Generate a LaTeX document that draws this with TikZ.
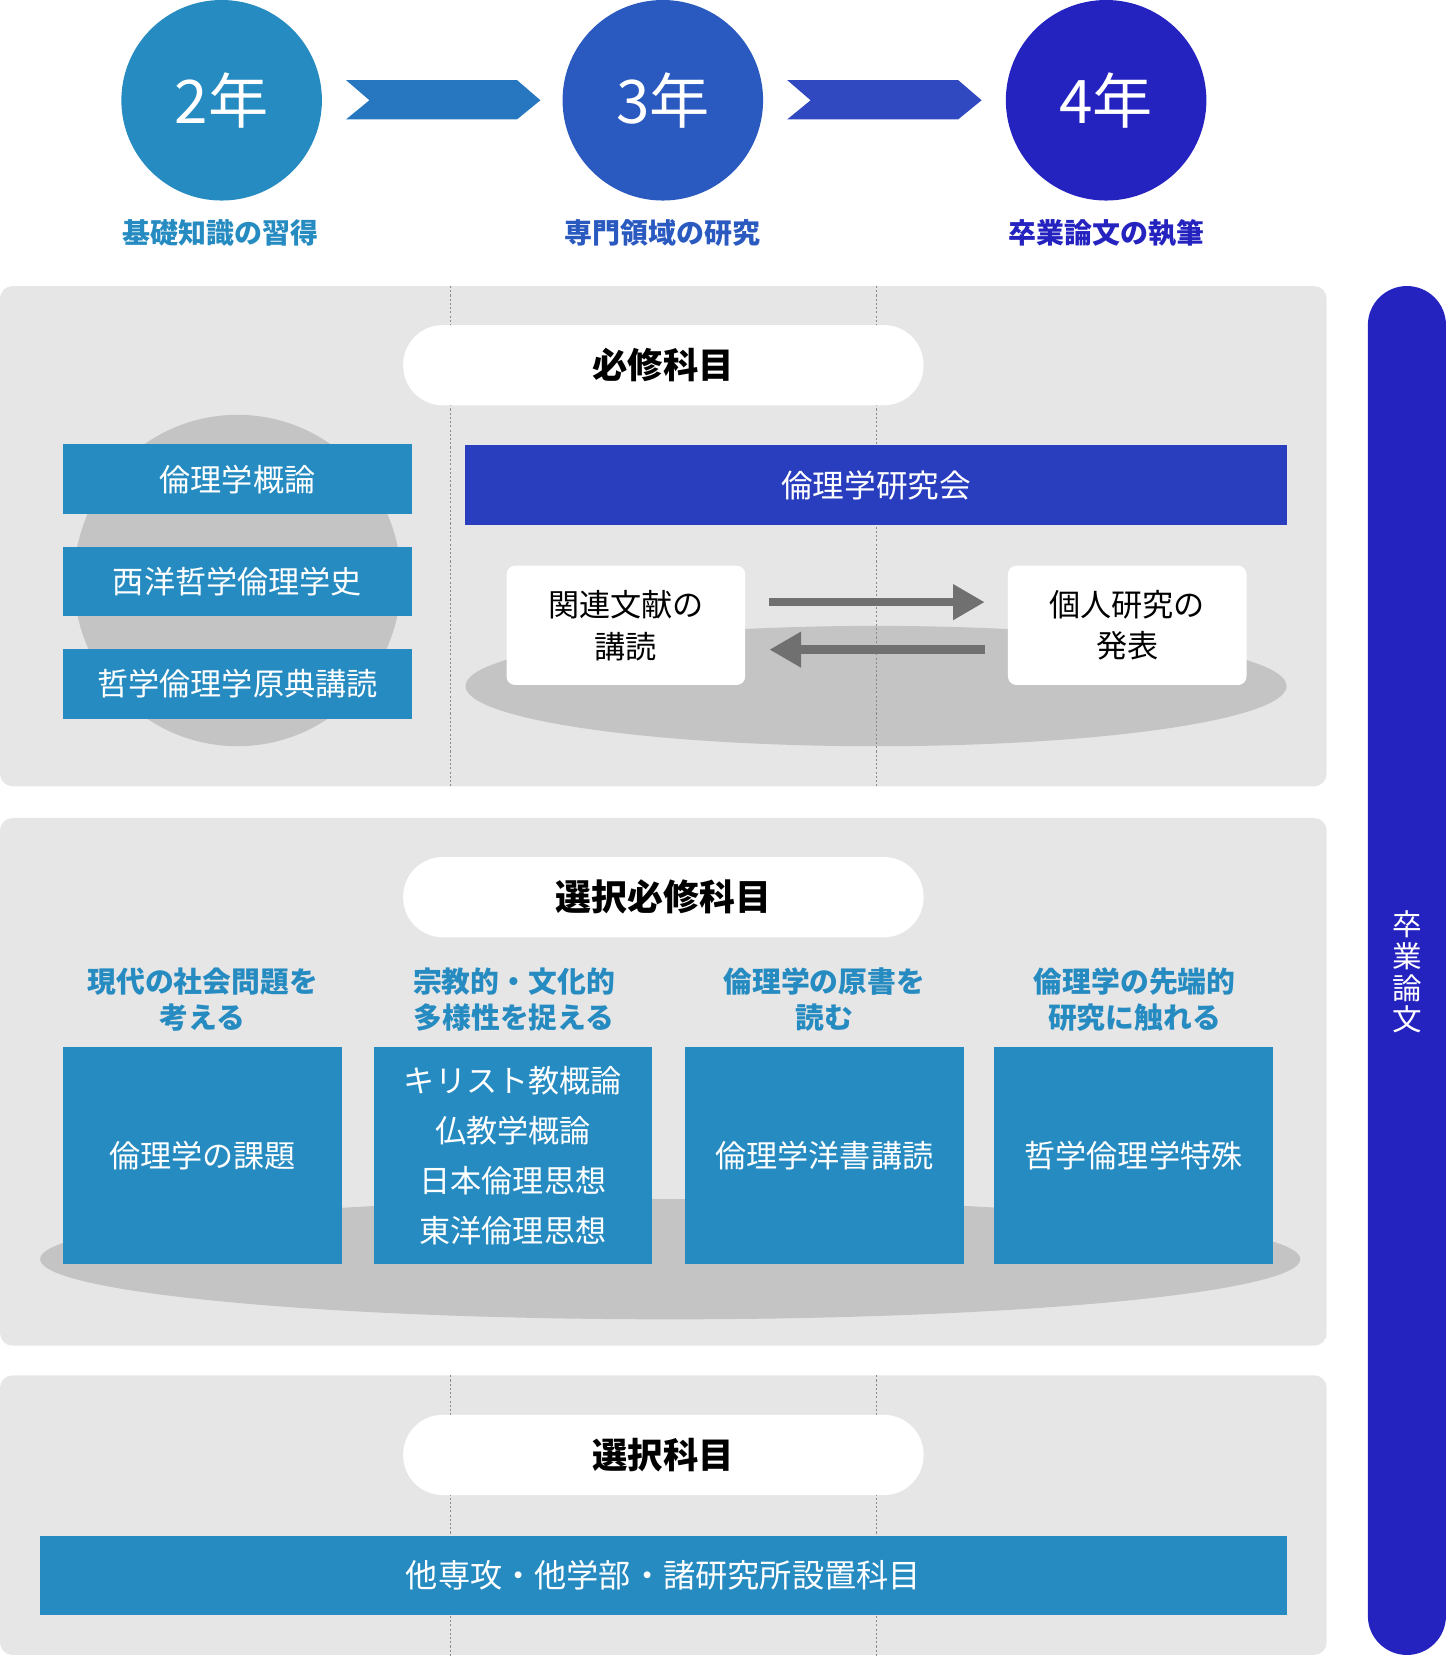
\documentclass[tikz,border=0pt]{standalone}
\usepackage{fontspec}
\setmainfont{Noto Sans CJK JP}
\usetikzlibrary{arrows.meta}
\definecolor{cteal}{HTML}{268BC1}
\definecolor{cmid}{HTML}{2A5AC0}
\definecolor{cdeep}{HTML}{2523C0}
\definecolor{cbluebox}{HTML}{293EBF}
\definecolor{cchevA}{HTML}{2777C0}
\definecolor{cchevB}{HTML}{3048C0}
\definecolor{cpanel}{HTML}{E6E6E6}
\definecolor{cell}{HTML}{C4C4C4}
\definecolor{cdash}{HTML}{8A8A8A}
\definecolor{carrow}{HTML}{707070}
\begin{document}
\begin{tikzpicture}[x=1pt,y=-1pt,
  every node/.style={inner sep=0pt,outer sep=0pt},
  yearcirc/.style={circle,minimum size=190pt,text=white,font=\fontsize{57}{60}\selectfont},
  yearlbl/.style={font=\fontsize{26.5}{30}\selectfont\bfseries},
  panelbox/.style={fill=cpanel,rounded corners=12pt,minimum width=1257pt},
  pillbox/.style={fill=white,rounded corners=37.5pt,minimum width=493pt,minimum height=76pt,font=\fontsize{33.5}{36}\selectfont\bfseries},
  tealbox/.style={fill=cteal,text=white,font=\fontsize{29.5}{32}\selectfont},
  whitebox/.style={fill=white,rounded corners=8pt,minimum width=226pt,minimum height=113pt,align=center,font=\fontsize{29.5}{39.5}\selectfont},
  catlbl/.style={text=cteal,align=center,font=\fontsize{27.3}{33.5}\selectfont\bfseries},
  dashline/.style={draw=cdash,dashed,dash pattern=on 2pt off 2pt,line width=0.9pt},
  bigarrow/.style={draw=carrow,line width=8pt,-{Triangle[length=30pt,width=32pt]}},
]
\useasboundingbox (0,0) rectangle (1372,1569);
% ---------- top years ----------
\node[yearcirc,fill=cteal] (y2) at (210,95) {2年};
\node[yearcirc,fill=cmid] (y3) at (628,95) {3年};
\node[yearcirc,fill=cdeep] (y4) at (1048,95) {4年};
\node[yearlbl,text=cteal] (l2) at (209,221) {基礎知識の習得};
\node[yearlbl,text=cmid] (l3) at (628,221) {専門領域の研究};
\node[yearlbl,text=cdeep] (l4) at (1048,221) {卒業論文の執筆};
\fill[cchevA] (328,76) -- (490,76) -- (512,95) -- (490,113) -- (328,113) -- (350,95) -- cycle;
\fill[cchevB] (746,76) -- (908,76) -- (930,95) -- (908,113) -- (746,113) -- (768,95) -- cycle;
% ---------- panel 1 ----------
\node[panelbox,minimum height=474pt] (p1) at (628.5,508) {};
\fill[cell] (225,550) ellipse [x radius=155pt, y radius=157pt];
\fill[cell] (830,650) ellipse [x radius=389pt, y radius=57pt];
\draw[dashline] (427,271) -- (427,745);
\draw[dashline] (830,271) -- (830,745);
\node[pillbox] (req) at (628.5,346) {必修科目};
\node[tealbox,minimum width=330pt,minimum height=66pt] (r1) at (225,454) {倫理学概論};
\node[tealbox,minimum width=330pt,minimum height=66pt] (r2) at (225,551) {西洋哲学倫理学史};
\node[tealbox,minimum width=330pt,minimum height=66pt] (r3) at (225,648) {哲学倫理学原典講読};
\node[fill=cbluebox,text=white,font=\fontsize{30}{32}\selectfont,minimum width=778pt,minimum height=75pt] (kai) at (830,459.5) {倫理学研究会};
\node[whitebox] (ka) at (593,592.5) {関連文献の\\講読};
\node[whitebox] (kb) at (1068,592.5) {個人研究の\\発表};
\draw[bigarrow] ([xshift=23pt,yshift=22pt]ka.east) -- ([xshift=-22pt,yshift=22pt]kb.west);
\draw[bigarrow] ([xshift=-22pt,yshift=-23pt]kb.west) -- ([xshift=23pt,yshift=-23pt]ka.east);
% ---------- panel 2 ----------
\node[panelbox,minimum height=500pt] (p2) at (628.5,1025) {};
\fill[cell] (635,1193) ellipse [x radius=597pt, y radius=57pt];
\node[pillbox,font=\fontsize{34}{36}\selectfont\bfseries] (sel) at (628.5,850) {選択必修科目};
\node[catlbl] (c1) at (192,947) {現代の社会問題を\\考える};
\node[catlbl] (c2) at (487,947) {宗教的・文化的\\多様性を捉える};
\node[catlbl] (c3) at (781,947) {倫理学の原書を\\読む};
\node[catlbl] (c4) at (1075,947) {倫理学の先端的\\研究に触れる};
\node[tealbox,minimum width=264pt,minimum height=206pt] (b1) at (192,1095) {倫理学の課題};
\node[tealbox,minimum width=264pt,minimum height=206pt,align=center,font=\fontsize{29.5}{47.5}\selectfont] (b2) at (486,1095) {キリスト教概論\\仏教学概論\\日本倫理思想\\東洋倫理思想};
\node[tealbox,minimum width=264pt,minimum height=206pt] (b3) at (781,1095) {倫理学洋書講読};
\node[tealbox,minimum width=264pt,minimum height=206pt] (b4) at (1074,1095) {哲学倫理学特殊};
% ---------- panel 3 ----------
\node[panelbox,minimum height=265pt] (p3) at (628.5,1435.5) {};
\draw[dashline] (427,1303) -- (427,1569);
\draw[dashline] (830,1303) -- (830,1569);
\node[pillbox] (opt) at (628.5,1378.5) {選択科目};
\node[tealbox,font=\fontsize{30.5}{32}\selectfont,minimum width=1181pt,minimum height=75pt] (other) at (628.5,1492.5) {他専攻・他学部・諸研究所設置科目};
% ---------- right bar ----------
\node[fill=cdeep,rounded corners=37pt,minimum width=74pt,minimum height=1297pt] (bar) at (1333,919.5) {};
\node[text=white,align=center,font=\fontsize{28}{30}\selectfont] (sotsu) at (1333,921) {卒\\業\\論\\文};
\end{tikzpicture}
\end{document}
